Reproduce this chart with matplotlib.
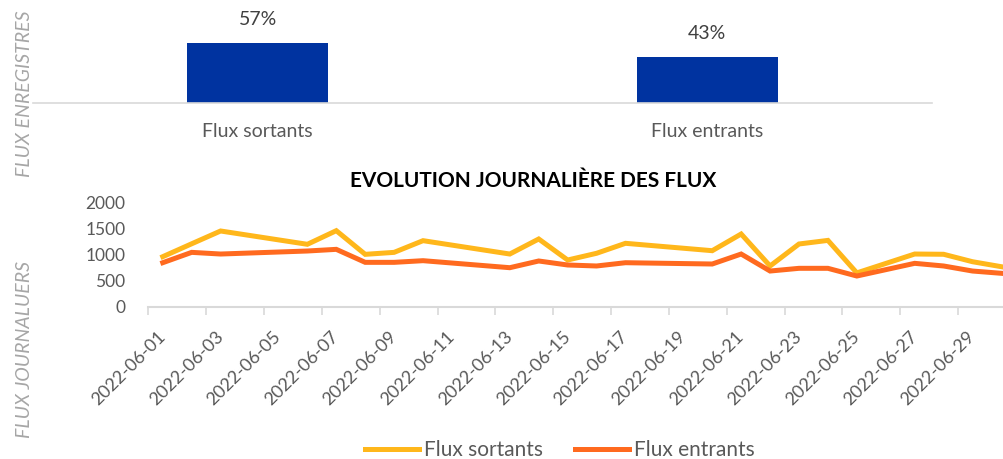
import matplotlib
matplotlib.use("Agg")
import matplotlib.pyplot as plt
import matplotlib.dates as mdates
import matplotlib.ticker as mticker
import pandas as pd
import numpy as np

# ---- data ----
share_categories = ["Flux sortants", "Flux entrants"]
share_values = [57, 43]
share_labels = ["57%", "43%"]

dates = ["2022-06-01", "2022-06-02", "2022-06-03", "2022-06-06", "2022-06-07",
         "2022-06-08", "2022-06-09", "2022-06-10", "2022-06-13", "2022-06-14",
         "2022-06-15", "2022-06-16", "2022-06-17", "2022-06-20", "2022-06-21",
         "2022-06-22", "2022-06-23", "2022-06-24", "2022-06-25", "2022-06-27",
         "2022-06-28", "2022-06-29", "2022-06-30"]
flux_sortants = [962, 1210, 1456, 1200, 1462, 1007, 1045, 1270, 1013, 1302,
                 898, 1027, 1219, 1077, 1398, 783, 1206, 1275, 650, 1013,
                 1008, 865, 769]
flux_entrants = [846, 1045, 1013, 1071, 1103, 853, 853, 885, 750, 879,
                 802, 783, 846, 821, 1013, 686, 738, 738, 590, 834,
                 783, 686, 642]
y_ticks = [0, 500, 1000, 1500, 2000]

FONT = ["Lato", "DejaVu Sans"]
plt.rcParams["font.family"] = FONT

W, H = 1004, 459
fig = plt.figure(figsize=(W / 100, H / 100), dpi=100)

def fx(px):
    return px / W

def fy(py):
    return 1 - py / H

GRAY_TXT = "#595959"
AXIS_GRAY = "#D9D9D9"

# ---- top bar chart ----
ax1 = fig.add_axes([fx(33), fy(102.7), fx(932 - 33), 102.7 / H])
xb = np.arange(len(share_categories))
ax1.bar(xb, share_values, width=0.314, color="#0033A0")
ax1.set_xlim(-0.5, 1.5)
ax1.set_ylim(0, 97.6)
for s in ["top", "right", "left"]:
    ax1.spines[s].set_visible(False)
ax1.spines["bottom"].set_color(AXIS_GRAY)
ax1.spines["bottom"].set_linewidth(1.2)
ax1.set_yticks([])
ax1.set_xticks(xb)
ax1.set_xticklabels(share_categories, fontsize=14, color=GRAY_TXT, va="center")
ax1.tick_params(axis="x", length=0, pad=21)
for xi, v, lab in zip(xb, share_values, share_labels):
    ax1.annotate(lab, (xi, v), xytext=(0, 17), textcoords="offset points",
                 ha="center", va="center", fontsize=14, color="#404040")

# ---- line chart ----
x = pd.to_datetime(dates)
start = pd.Timestamp("2022-05-31 12:00")
day_px = 28.92
left_px = 148.3
n_days_visible = (W - left_px) / day_px
ax2 = fig.add_axes([fx(left_px), fy(306.7), fx(W - left_px), 104 / H])
ax2.plot(x, flux_sortants, color="#FFB71B", lw=3.6, solid_joinstyle="miter",
         label="Flux sortants")
ax2.plot(x, flux_entrants, color="#FF6A1F", lw=3.6, solid_joinstyle="miter",
         label="Flux entrants")
ax2.set_xlim(start, start + pd.Timedelta(days=n_days_visible))
ax2.set_ylim(0, 2000)
ax2.set_yticks(y_ticks)
ax2.tick_params(axis="y", length=0, pad=16.5, labelsize=12.5, labelcolor=GRAY_TXT)
for s in ["top", "right", "left"]:
    ax2.spines[s].set_visible(False)
ax2.spines["bottom"].set_color(AXIS_GRAY)
ax2.spines["bottom"].set_linewidth(1.5)

ax2.xaxis.set_major_locator(mdates.DayLocator(bymonthday=range(1, 31, 2)))
ax2.xaxis.set_major_formatter(mdates.DateFormatter("%Y-%m-%d"))
major_nums = ax2.xaxis.get_major_locator()()
ax2.xaxis.set_minor_locator(mticker.FixedLocator([m - 0.5 for m in major_nums]))
ax2.tick_params(axis="x", which="major", length=0, pad=20, labelsize=13,
                labelcolor=GRAY_TXT)
ax2.tick_params(axis="x", which="minor", length=6, width=1.2, color=AXIS_GRAY,
                direction="out")
for lab in ax2.get_xticklabels():
    lab.set_rotation(45)
    lab.set_ha("right")
    lab.set_va("center")
    lab.set_rotation_mode("anchor")

# title
fig.text(fx(533), fy(181), "EVOLUTION JOURNALIÈRE DES FLUX", ha="center",
         va="center", fontsize=15, fontweight="bold", color="black")

# side labels
fig.text(fx(25), fy(94), "FLUX ENREGISTRES", rotation=90, ha="center",
         va="center", fontsize=14, style="italic", color="#A6A6A6")
fig.text(fx(25), fy(349), "FLUX JOURNALUERS", rotation=90, ha="center",
         va="center", fontsize=14, style="italic", color="#A6A6A6")

# legend
handles, labels = ax2.get_legend_handles_labels()
fig.legend(handles, labels, loc="center", bbox_to_anchor=(fx(560), fy(450)),
           ncol=2, frameon=False, fontsize=15, handlelength=2.6,
           handletextpad=0.25, columnspacing=1.5, labelcolor=GRAY_TXT)

fig.savefig("out.png", dpi=100)
